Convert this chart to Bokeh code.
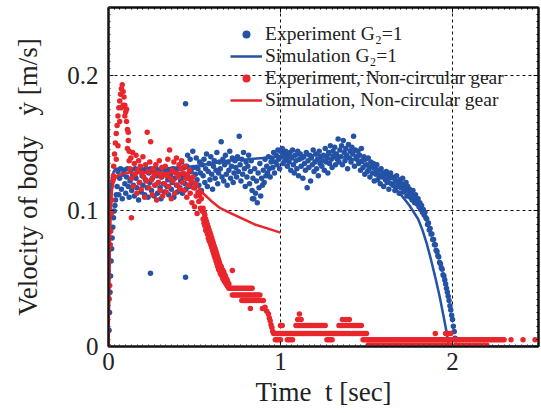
from bokeh.plotting import figure
from bokeh.models import (Legend, LegendItem, LinearAxis, SingleIntervalTicker,
                          Range1d, ColumnDataSource)
from bokeh.embed import file_html
from bokeh.resources import INLINE

# ---------------- data ----------------
# Experiment, G2 = 1  (time [s], velocity [m/s])
exp_g2_t = [
    0.000, 0.003, 0.006, 0.009, 0.012, 0.015, 0.018, 0.021, 0.025, 0.029, 0.033, 0.037, 0.041, 0.045,
    0.050, 0.055, 0.060, 0.065, 0.070, 0.075, 0.080, 0.085, 0.090, 0.095, 0.100, 0.105, 0.110, 0.115, 0.120, 0.125, 0.130, 0.135, 0.140, 0.145,
    0.150, 0.155, 0.160, 0.165, 0.170, 0.175, 0.180, 0.185, 0.190, 0.195, 0.200, 0.205, 0.210, 0.215, 0.220, 0.225, 0.230, 0.235, 0.240, 0.245,
    0.250, 0.255, 0.260, 0.265, 0.270, 0.275, 0.280, 0.285, 0.290, 0.295, 0.300, 0.305, 0.310, 0.315, 0.320, 0.325, 0.330, 0.335, 0.340, 0.345,
    0.350, 0.355, 0.360, 0.365, 0.370, 0.375, 0.380, 0.385, 0.390, 0.395, 0.400, 0.405, 0.410, 0.415, 0.420, 0.425, 0.430, 0.435, 0.440, 0.445,
    0.450, 0.455, 0.460, 0.465, 0.470, 0.475, 0.480, 0.485, 0.490, 0.495, 0.500, 0.505, 0.510, 0.515, 0.520, 0.525, 0.530, 0.535, 0.540, 0.545,
    0.550, 0.555, 0.560, 0.565, 0.570, 0.575, 0.580, 0.585, 0.590, 0.595, 0.600, 0.605, 0.610, 0.615, 0.620, 0.625, 0.630, 0.635, 0.640, 0.645,
    0.650, 0.655, 0.660, 0.665, 0.670, 0.675, 0.680, 0.685, 0.690, 0.695, 0.700, 0.705, 0.710, 0.715, 0.720, 0.725, 0.730, 0.735, 0.740, 0.745,
    0.750, 0.755, 0.760, 0.765, 0.770, 0.775, 0.780, 0.785, 0.790, 0.795, 0.800, 0.805, 0.810, 0.815, 0.820, 0.825, 0.830, 0.835, 0.840, 0.845,
    0.850, 0.855, 0.860, 0.865, 0.870, 0.875, 0.880, 0.885, 0.890, 0.895, 0.900, 0.905, 0.910, 0.915, 0.920, 0.925, 0.930, 0.935, 0.940, 0.945,
    0.950, 0.955, 0.960, 0.965, 0.970, 0.975, 0.980, 0.985, 0.990, 0.995, 1.000, 1.005, 1.010, 1.015, 1.020, 1.025, 1.030, 1.035, 1.040, 1.045,
    1.050, 1.055, 1.060, 1.065, 1.070, 1.075, 1.080, 1.085, 1.090, 1.095, 1.100, 1.105, 1.110, 1.115, 1.120, 1.125, 1.130, 1.135, 1.140, 1.145,
    1.150, 1.155, 1.160, 1.165, 1.170, 1.175, 1.180, 1.185, 1.190, 1.195, 1.200, 1.205, 1.210, 1.215, 1.220, 1.225, 1.230, 1.235, 1.240, 1.245,
    1.250, 1.255, 1.260, 1.265, 1.270, 1.275, 1.280, 1.285, 1.290, 1.295, 1.300, 1.305, 1.310, 1.315, 1.320, 1.325, 1.330, 1.335, 1.340, 1.345,
    1.350, 1.355, 1.360, 1.365, 1.370, 1.375, 1.380, 1.385, 1.390, 1.395, 1.400, 1.405, 1.410, 1.415, 1.420, 1.425, 1.430, 1.435, 1.440, 1.445,
    1.450, 1.455, 1.460, 1.465, 1.470, 1.475, 1.480, 1.485, 1.490, 1.495, 1.500, 1.505, 1.510, 1.515, 1.520, 1.525, 1.530, 1.535, 1.540, 1.545,
    1.550, 1.555, 1.560, 1.565, 1.570, 1.575, 1.580, 1.585, 1.590, 1.595, 1.600, 1.605, 1.610, 1.615, 1.620, 1.625, 1.630, 1.635, 1.640, 1.645,
    1.650, 1.655, 1.660, 1.665, 1.670, 1.675, 1.680, 1.685, 1.690, 1.695, 1.700, 1.705, 1.710, 1.715, 1.720, 1.725, 1.730, 1.735, 1.740, 1.745,
    1.750, 1.755, 1.760, 1.765, 1.770, 1.775, 1.780, 1.785, 1.790, 1.795, 1.800, 1.805, 1.810, 1.815, 1.820, 1.825, 1.830, 1.835, 1.840, 1.845,
    1.850, 1.855, 1.860, 1.865, 1.870, 1.875, 1.880, 1.885, 1.890, 1.895, 1.900, 1.905, 1.910, 1.915, 1.920, 1.925, 1.930, 1.935, 1.940, 1.945,
    1.950, 1.955, 1.960, 1.965, 1.970, 1.975, 1.980, 1.985, 1.990, 1.995, 2.000, 2.005, 2.010, 2.015, 2.020,
    0.244, 0.448, 0.448, 0.837,
]
exp_g2_v = [
    0.000, 0.012, 0.025, 0.040, 0.052, 0.063, 0.072, 0.080, 0.088, 0.095, 0.100, 0.104, 0.108, 0.112,
    0.118, 0.129, 0.112, 0.124, 0.131, 0.116, 0.109, 0.127, 0.130, 0.120, 0.113, 0.125, 0.131, 0.118, 0.110, 0.122, 0.130, 0.115, 0.126, 0.119,
    0.111, 0.131, 0.124, 0.117, 0.129, 0.108, 0.121, 0.131, 0.114, 0.126, 0.119, 0.130, 0.112, 0.123, 0.131, 0.117, 0.110, 0.128, 0.121, 0.131,
    0.115, 0.124, 0.130, 0.111, 0.119, 0.131, 0.126, 0.113, 0.121, 0.130, 0.117, 0.109, 0.125, 0.131, 0.120, 0.114, 0.128, 0.131, 0.118, 0.123,
    0.112, 0.130, 0.126, 0.116, 0.121, 0.131, 0.110, 0.124, 0.129, 0.119, 0.114, 0.131, 0.127, 0.117, 0.122, 0.136, 0.113, 0.125, 0.132, 0.120,
    0.116, 0.133, 0.141, 0.124, 0.118, 0.138, 0.129, 0.121, 0.144, 0.132, 0.117, 0.127, 0.139, 0.123, 0.131, 0.119, 0.136, 0.128, 0.115, 0.134,
    0.126, 0.138, 0.121, 0.131, 0.142, 0.118, 0.129, 0.135, 0.123, 0.140, 0.127, 0.116, 0.133, 0.137, 0.124, 0.130, 0.143, 0.120, 0.128, 0.136,
    0.131, 0.151, 0.125, 0.138, 0.122, 0.134, 0.141, 0.127, 0.119, 0.136, 0.130, 0.144, 0.124, 0.133, 0.139, 0.121, 0.128, 0.137, 0.132, 0.125,
    0.140, 0.129, 0.155, 0.134, 0.122, 0.138, 0.127, 0.143, 0.131, 0.118, 0.136, 0.125, 0.133, 0.141, 0.120, 0.129, 0.137, 0.115, 0.124, 0.109,
    0.131, 0.113, 0.122, 0.106, 0.128, 0.117, 0.135, 0.111, 0.124, 0.119, 0.130, 0.121, 0.138, 0.126, 0.133, 0.128, 0.140, 0.131, 0.125, 0.136,
    0.139, 0.132, 0.143, 0.128, 0.136, 0.141, 0.134, 0.145, 0.138, 0.131, 0.144, 0.140, 0.146, 0.135, 0.142, 0.137, 0.144, 0.139, 0.133, 0.141,
    0.136, 0.143, 0.130, 0.139, 0.145, 0.134, 0.128, 0.141, 0.137, 0.131, 0.144, 0.126, 0.138, 0.142, 0.133, 0.139, 0.124, 0.140, 0.135, 0.130,
    0.143, 0.117, 0.137, 0.132, 0.141, 0.122, 0.139, 0.134, 0.145, 0.129, 0.136, 0.142, 0.131, 0.138, 0.126, 0.144, 0.135, 0.140, 0.133, 0.137,
    0.141, 0.130, 0.146, 0.136, 0.139, 0.128, 0.143, 0.135, 0.148, 0.138, 0.132, 0.144, 0.140, 0.147, 0.134, 0.142, 0.138, 0.153, 0.136, 0.145,
    0.140, 0.148, 0.134, 0.152, 0.143, 0.137, 0.146, 0.141, 0.131, 0.149, 0.139, 0.144, 0.136, 0.147, 0.142, 0.155, 0.133, 0.145, 0.140, 0.138,
    0.144, 0.135, 0.141, 0.130, 0.146, 0.137, 0.132, 0.140, 0.127, 0.138, 0.134, 0.129, 0.139, 0.131, 0.125, 0.136, 0.133, 0.128, 0.135, 0.122,
    0.132, 0.127, 0.134, 0.123, 0.130, 0.126, 0.120, 0.131, 0.125, 0.128, 0.118, 0.127, 0.123, 0.129, 0.121, 0.126, 0.116, 0.124, 0.128, 0.120,
    0.125, 0.119, 0.124, 0.115, 0.122, 0.126, 0.118, 0.121, 0.113, 0.123, 0.117, 0.120, 0.124, 0.114, 0.119, 0.116, 0.121, 0.111, 0.118, 0.114,
    0.116, 0.110, 0.113, 0.108, 0.115, 0.111, 0.106, 0.112, 0.108, 0.105, 0.109, 0.103, 0.106, 0.101, 0.104, 0.099, 0.101, 0.097, 0.099, 0.095,
    0.094, 0.090, 0.091, 0.086, 0.087, 0.083, 0.083, 0.079, 0.079, 0.075, 0.075, 0.071, 0.070, 0.067, 0.066, 0.062, 0.061, 0.058, 0.057, 0.053,
    0.052, 0.049, 0.046, 0.043, 0.040, 0.037, 0.034, 0.030, 0.027, 0.023, 0.020, 0.015, 0.011, 0.006, 0.001,
    0.054, 0.051, 0.179, 0.109,
]

# Simulation, G2 = 1
sim_g2_t = [0.0, 0.005, 0.01, 0.015, 0.02, 0.03, 0.04, 0.06, 0.1, 0.2, 0.3, 0.4, 0.5, 0.6, 0.7,
            0.8, 0.9, 1.0, 1.1, 1.2, 1.3, 1.4, 1.45, 1.5, 1.55, 1.6, 1.65, 1.7, 1.75, 1.8,
            1.825, 1.85, 1.875, 1.9, 1.925, 1.95, 1.965, 1.98, 2.5]
sim_g2_v = [0.0, 0.060, 0.100, 0.117, 0.124, 0.129, 0.131, 0.131, 0.131, 0.131, 0.131, 0.132, 0.133, 0.135, 0.137,
            0.138, 0.139, 0.140, 0.141, 0.141, 0.141, 0.139, 0.137, 0.134, 0.130, 0.125, 0.119, 0.112, 0.104, 0.094,
            0.086, 0.076, 0.064, 0.051, 0.037, 0.021, 0.011, 0.0, 0.0]

# Experiment, non-circular gear: scattered part
exp_ncg_t = [
    0.000, 0.004, 0.007, 0.010, 0.013, 0.016, 0.020, 0.025, 0.030, 0.035, 0.040, 0.045, 0.050, 0.055,
    0.060, 0.065, 0.070, 0.075, 0.080, 0.085, 0.090, 0.095, 0.100, 0.105, 0.110, 0.115, 0.120,
    0.028, 0.045, 0.055, 0.065, 0.075, 0.085, 0.095, 0.105, 0.110, 0.115, 0.120, 0.133,
    0.125, 0.130, 0.135, 0.140, 0.145, 0.150, 0.155, 0.160, 0.165, 0.170, 0.175, 0.180, 0.185, 0.190, 0.195, 0.200, 0.205, 0.210, 0.215, 0.220,
    0.225, 0.230, 0.235, 0.240, 0.245, 0.250, 0.255, 0.260, 0.265, 0.270, 0.275, 0.280, 0.285, 0.290, 0.295, 0.300, 0.305, 0.310, 0.315, 0.320,
    0.325, 0.330, 0.335, 0.340, 0.345, 0.350, 0.355, 0.360, 0.365, 0.370, 0.375, 0.380, 0.385, 0.390, 0.395, 0.400, 0.405, 0.410, 0.415, 0.420,
    0.425, 0.430, 0.435, 0.440, 0.445, 0.450, 0.455, 0.460, 0.465, 0.470, 0.475, 0.480, 0.485, 0.490, 0.495, 0.500, 0.505, 0.510, 0.515, 0.520,
    0.525, 0.530, 0.535, 0.540, 0.545,
    0.720, 0.910, 0.920, 0.930, 0.935, 0.940, 0.945, 0.950, 0.955,
]
exp_ncg_v = [
    0.000, 0.035, 0.045, 0.075, 0.085, 0.098, 0.108, 0.122, 0.133, 0.142, 0.150, 0.157, 0.163, 0.170,
    0.176, 0.181, 0.186, 0.190, 0.193, 0.188, 0.184, 0.178, 0.173, 0.166, 0.160, 0.152, 0.144,
    0.126, 0.138, 0.148, 0.166, 0.176, 0.178, 0.170, 0.175, 0.146, 0.158, 0.137, 0.095,
    0.131, 0.139, 0.124, 0.143, 0.118, 0.135, 0.127, 0.141, 0.113, 0.130, 0.137, 0.121, 0.133, 0.116, 0.128, 0.140, 0.125, 0.110, 0.134, 0.122,
    0.158, 0.129, 0.117, 0.136, 0.151, 0.123, 0.112, 0.131, 0.126, 0.119, 0.134, 0.108, 0.128, 0.121, 0.137, 0.115, 0.125, 0.132, 0.111, 0.127,
    0.120, 0.133, 0.114, 0.126, 0.138, 0.118, 0.145, 0.124, 0.109, 0.130, 0.122, 0.136, 0.113, 0.128, 0.139, 0.119, 0.125, 0.134, 0.116, 0.131,
    0.137, 0.121, 0.128, 0.115, 0.133, 0.124, 0.110, 0.127, 0.119, 0.130, 0.113, 0.122, 0.106, 0.125, 0.117, 0.103, 0.120, 0.111, 0.098, 0.114,
    0.107, 0.112, 0.102, 0.109, 0.100,
    0.056, 0.029, 0.026, 0.024, 0.021, 0.019, 0.016, 0.014, 0.011,
]

# Experiment, non-circular gear: steep decline (two samples per time step)
ncg_decline_t = [0.550, 0.555, 0.560, 0.565, 0.570, 0.575, 0.580, 0.585, 0.590, 0.595, 0.600,
                 0.605, 0.610, 0.615, 0.620, 0.625, 0.630, 0.635, 0.640, 0.645, 0.650,
                 0.655, 0.660, 0.665, 0.670, 0.675, 0.680, 0.685, 0.690, 0.695, 0.700]
ncg_decline_upper = [0.102, 0.099, 0.097, 0.094, 0.092, 0.090, 0.088, 0.086, 0.084, 0.082, 0.080,
                     0.078, 0.076, 0.074, 0.072, 0.070, 0.068, 0.066, 0.064, 0.062, 0.060,
                     0.059, 0.057, 0.056, 0.055, 0.053, 0.052, 0.050, 0.049, 0.047, 0.046]
ncg_decline_lower = [0.094, 0.091, 0.089, 0.086, 0.085, 0.083, 0.080, 0.078, 0.077, 0.075, 0.073,
                     0.071, 0.069, 0.067, 0.065, 0.063, 0.061, 0.059, 0.057, 0.056, 0.054,
                     0.053, 0.052, 0.050, 0.049, 0.048, 0.047, 0.046, 0.045, 0.044, 0.043]

# Experiment, non-circular gear: quantised velocity levels and the times they occur
ncg_levels = [0.043, 0.038, 0.034, 0.028, 0.024, 0.020, 0.0155, 0.0095, 0.005, 0.001]
ncg_level_times = [
    [0.705, 0.715, 0.725, 0.735, 0.745, 0.755, 0.765, 0.775, 0.785, 0.795, 0.805, 0.815, 0.825, 0.835],
    [0.720, 0.730, 0.740, 0.750, 0.760, 0.770, 0.780, 0.790, 0.800, 0.810, 0.820, 0.830, 0.840, 0.850,
     0.860, 0.870, 0.880],
    [0.775, 0.785, 0.795, 0.805, 0.815, 0.830, 0.845, 0.860, 0.875, 0.890, 0.900],
    [0.825, 0.895, 0.905],
    [1.11],
    [1.10, 1.12, 1.36, 1.38, 1.40],
    [1.00, 1.01, 1.09, 1.10, 1.11, 1.12, 1.13, 1.14, 1.15, 1.16, 1.17, 1.18, 1.19, 1.20, 1.21,
     1.22, 1.23, 1.24, 1.25, 1.26, 1.34, 1.35, 1.36, 1.37, 1.38, 1.39, 1.40, 1.41, 1.42, 1.43,
     1.44, 1.45, 1.46, 1.47],
    [0.96, 0.97, 0.98, 0.99, 1.00, 1.01, 1.02, 1.03, 1.04, 1.05, 1.06, 1.07, 1.08, 1.09, 1.10,
     1.11, 1.12, 1.13, 1.14, 1.15, 1.16, 1.17, 1.18, 1.19, 1.20, 1.21, 1.22, 1.23, 1.24, 1.25,
     1.26, 1.27, 1.28, 1.29, 1.30, 1.31, 1.32, 1.33, 1.34, 1.35, 1.36, 1.37, 1.38, 1.39, 1.40,
     1.41, 1.42, 1.43, 1.44, 1.45, 1.46, 1.47, 1.48, 1.49, 1.50, 1.90, 1.96, 1.97, 1.98, 1.99],
    [0.97, 0.98, 0.99, 1.00, 1.04, 1.05, 1.06, 1.07, 1.27, 1.28, 1.29, 1.30,
     1.48, 1.49, 1.50, 1.51, 1.52, 1.53, 1.54, 1.55, 1.56, 1.57, 1.58, 1.59, 1.60, 1.61, 1.62,
     1.63, 1.64, 1.65, 1.66, 1.67, 1.68, 1.69, 1.70, 1.71, 1.72, 1.73, 1.74, 1.75, 1.76, 1.77,
     1.78, 1.79, 1.80, 1.81, 1.82, 1.83, 1.84, 1.85, 1.86, 1.87, 1.88, 1.89, 1.90, 1.91, 1.92,
     1.93, 1.94, 1.95, 1.96, 1.97, 1.98, 1.99, 2.00, 2.01, 2.02, 2.03, 2.04, 2.05, 2.06, 2.07,
     2.08, 2.09, 2.10, 2.11, 2.12, 2.13, 2.14, 2.15, 2.16, 2.17, 2.18, 2.19, 2.20, 2.21, 2.22,
     2.23, 2.24, 2.25, 2.26, 2.27, 2.28, 2.29, 2.30, 2.34, 2.41, 2.48],
    [1.51, 1.52, 1.53, 1.54, 1.55, 1.56, 1.57, 1.58, 1.59, 1.60, 1.61, 1.62, 1.63, 1.64, 1.65,
     1.66, 1.67, 1.68, 1.69, 1.70, 1.71, 1.72, 1.73, 1.74, 1.75, 1.76, 1.77, 1.78, 1.79, 1.80,
     1.81, 1.82, 1.83, 1.84, 1.85, 1.86, 1.87, 1.88, 1.89, 1.90, 1.91, 1.92, 1.93, 1.94, 1.95,
     1.96, 1.97, 1.98, 1.99, 2.02, 2.04, 2.06, 2.08, 2.10, 2.12, 2.14, 2.16, 2.18, 2.20],
]

# Simulation, non-circular gear
sim_ncg_t = [0.0, 0.005, 0.01, 0.02, 0.03, 0.05, 0.1, 0.2, 0.3, 0.4, 0.45, 0.5, 0.55, 0.6,
             0.65, 0.7, 0.75, 0.8, 0.85, 0.9, 0.95, 1.0]
sim_ncg_v = [0.0, 0.050, 0.090, 0.115, 0.122, 0.126, 0.128, 0.128, 0.128, 0.128, 0.126, 0.121, 0.113, 0.107,
             0.102, 0.099, 0.096, 0.093, 0.090, 0.088, 0.086, 0.084]

legend_labels = ["Experiment G₂=1", "Simulation G₂=1",
                 "Experiment, Non-circular gear", "Simulation, Non-circular gear"]

x_ticks_step = 1
y_ticks_step = 0.1

# ---------------- build sources ----------------
ncg_t = list(exp_ncg_t) + list(ncg_decline_t) + list(ncg_decline_t)
ncg_v = list(exp_ncg_v) + list(ncg_decline_upper) + list(ncg_decline_lower)
for lvl, times in zip(ncg_levels, ncg_level_times):
    ncg_t += times
    ncg_v += [lvl] * len(times)

src_exp_g2 = ColumnDataSource(dict(t=exp_g2_t, v=exp_g2_v))
src_sim_g2 = ColumnDataSource(dict(t=sim_g2_t, v=sim_g2_v))
src_exp_ncg = ColumnDataSource(dict(t=ncg_t, v=ncg_v))
src_sim_ncg = ColumnDataSource(dict(t=sim_ncg_t, v=sim_ncg_v))

FONT = "Liberation Serif"
BLUE = "#2452a5"
RED = "#e8262c"
TXT = "#222222"

p = figure(width=541, height=413, x_range=Range1d(0, 2.5), y_range=Range1d(0, 0.25),
           output_backend="svg", toolbar_location=None,
           min_border_left=108, min_border_right=3, min_border_top=7, min_border_bottom=67)
p.background_fill_color = "white"
p.outline_line_color = "#111111"
p.outline_line_width = 2

# grid
p.xgrid.ticker = SingleIntervalTicker(interval=x_ticks_step)
p.ygrid.ticker = SingleIntervalTicker(interval=y_ticks_step)
for g in (p.xgrid, p.ygrid):
    g.grid_line_color = "#111111"
    g.grid_line_dash = "3 3"
    g.grid_line_width = 1

# axes
p.xaxis.ticker = SingleIntervalTicker(interval=x_ticks_step, num_minor_ticks=30)
p.yaxis.ticker = SingleIntervalTicker(interval=y_ticks_step, num_minor_ticks=20)
p.yaxis.major_label_overrides = {0: "0"}
p.xaxis.axis_label = "Time\u00a0\u00a0t\u00a0[sec]"
p.yaxis.axis_label = "Velocity\u00a0of\u00a0body\u00a0\u00a0\u00a0ẏ\u00a0[m/s]"
for ax in (p.xaxis[0], p.yaxis[0]):
    ax.axis_line_width = 2
    ax.axis_line_color = "#111111"
    ax.major_tick_in = 5
    ax.major_tick_out = 0
    ax.minor_tick_in = 2
    ax.minor_tick_out = 0
    ax.major_tick_line_color = "#111111"
    ax.minor_tick_line_color = "#333333"
    ax.major_label_text_font = FONT
    ax.major_label_text_font_size = "25px"
    ax.major_label_text_color = TXT
    ax.axis_label_text_font = FONT
    ax.axis_label_text_font_size = "27px"
    ax.axis_label_text_font_style = "normal"
    ax.axis_label_text_color = TXT
p.xaxis.major_label_standoff = 6
p.yaxis.major_label_standoff = 10
p.xaxis.axis_label_standoff = 4
p.yaxis.axis_label_standoff = 21

# top / right axes with ticks only
top = LinearAxis(ticker=SingleIntervalTicker(interval=x_ticks_step, num_minor_ticks=30),
                 major_label_overrides={0: "", 1: "", 2: ""})
right = LinearAxis(ticker=SingleIntervalTicker(interval=y_ticks_step, num_minor_ticks=20),
                   major_label_overrides={0: "", 0.1: "", 0.2: ""})
for ax in (top, right):
    ax.axis_line_width = 2
    ax.axis_line_color = "#111111"
    ax.major_tick_in = 5
    ax.major_tick_out = 0
    ax.minor_tick_in = 2
    ax.minor_tick_out = 0
    ax.major_label_standoff = 0
    ax.major_label_text_font_size = "1px"
p.add_layout(top, "above")
p.add_layout(right, "right")

# glyphs
r_exp_g2 = p.scatter("t", "v", source=src_exp_g2, size=5.5, color=BLUE, line_color=None)
r_sim_g2 = p.line("t", "v", source=src_sim_g2, line_color=BLUE, line_width=2.5)
r_exp_ncg = p.scatter("t", "v", source=src_exp_ncg, size=5.5, color=RED, line_color=None)
r_sim_ncg = p.line("t", "v", source=src_sim_ncg, line_color=RED, line_width=2.5)

# one single-row legend per entry, so that the row pitch can follow the reference
legend_rows = [r_exp_g2, r_sim_g2, r_exp_ncg, r_sim_ncg]
legend_offsets = [(122, 301), (122, 279), (122, 257), (122, 235)]
for lab, rend, loc in zip(legend_labels, legend_rows, legend_offsets):
    lg = Legend(items=[LegendItem(label=lab, renderers=[rend])], location=loc)
    lg.background_fill_alpha = 0
    lg.border_line_alpha = 0
    lg.label_text_font = FONT
    lg.label_text_font_size = "19.5px"
    lg.label_text_color = TXT
    lg.glyph_width = 32
    lg.glyph_height = 20
    lg.label_height = 20
    lg.label_standoff = 3
    lg.spacing = 0
    lg.padding = 0
    lg.margin = 0
    p.add_layout(lg, "center")

open("out.html", "w").write(file_html(p, INLINE))
